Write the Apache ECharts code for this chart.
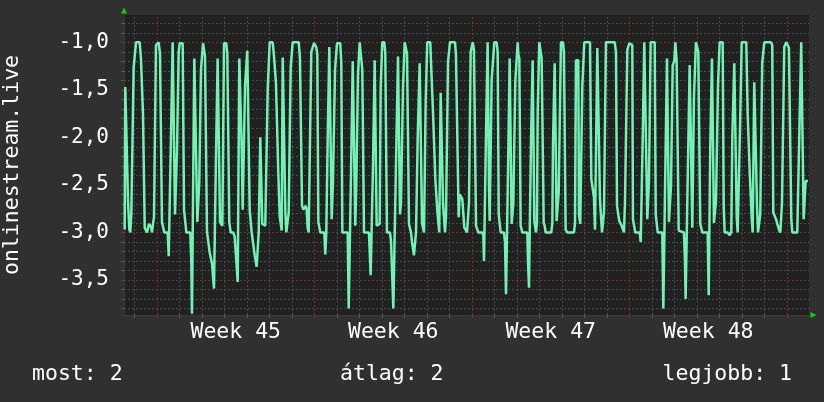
<!DOCTYPE html>
<html><head><meta charset="utf-8">
<script src="https://cdn.jsdelivr.net/npm/echarts@6/dist/echarts.min.js"></script>
<style>html,body{margin:0;padding:0;background:#303030;}#c{width:824px;height:402px;}</style>
</head><body><div id="c"></div>
<script>
// hours since Sat 2 Nov 00:00
const hoursA = [13.5,14.2,16.0,17.1,18.5,19.5,20.6,22.4,23.1,24.2,
25.6,29.5,30.9,32.0,33.1,34.1,34.9,36.3,37.3,38.4,
39.5,40.9,41.9,42.7,43.7,44.8,45.9,46.9,48.3,49.8,
51.2,52.6,53.3,54.7,55.8,59.4,60.5,61.9,62.9,64.0,
64.7,66.5,67.2,68.3,69.3,71.1,72.2,75.4,76.8,78.2,
79.3,83.5,84.6,85.3,86.7,87.8,89.6,91.0,92.5,93.1,
94.2,94.9,96.3,97.1,98.1,99.2,100.3,101.3,103.1,104.2,
105.6,106.7,108.1,108.8,109.9,110.9,112.0,112.7,114.1,115.2,
116.6,117.7,118.7,119.5,121.9,123.0,124.1,125.1,126.6,129.4,
130.9,133.0,134.1];
const valuesA = [-2.97,-1.47,-1.47,-2.68,-2.97,-3.0,-2.81,-2.81,-1.27,-1.26,
-1.0,-1.0,-1.17,-1.18,-1.77,-1.78,-2.95,-2.97,-3.0,-3.0,
-2.91,-2.93,-2.95,-3.0,-2.91,-2.84,-2.84,-1.03,-1.02,-1.0,
-1.12,-1.12,-2.89,-2.89,-3.0,-3.0,-3.25,-3.25,-2.0,-2.0,
-1.0,-1.0,-2.81,-2.81,-2.16,-1.11,-1.01,-1.01,-2.76,-2.77,
-3.0,-3.0,-3.31,-3.855,-3.855,-1.17,-1.17,-2.89,-2.89,-2.48,
-2.48,-1.29,-1.27,-1.01,-1.01,-1.15,-1.15,-2.99,-2.99,-3.21,
-3.22,-3.33,-3.33,-3.59,-3.59,-2.21,-2.21,-1.17,-1.17,-2.89,
-2.89,-2.93,-2.93,-1.01,-1.01,-1.12,-1.12,-2.89,-3.0,-3.0,
-3.05,-3.05,-3.52];

const hoursB = [135.1,135.8,137.3,138.3,139.4,140.1,141.9,143.3,144.3,146.1,
146.9,148.3,149.0,150.7,152.2,153.6,154.3,155.7,156.5,157.5,
158.2,159.3,160.3,163.5,165.0,166.1,167.1,168.2,171.4,172.5,
173.9,174.9,176.3,177.4,178.9,179.9,181.0,182.1,183.8,184.9,
185.9,187.4,188.5,189.5,190.6,191.7,192.7,199.2,200.5,201.6,
202.7,204.1,205.5,206.6,207.7,208.7,209.8,211.2,212.6,214.1,
215.5,216.9,217.9,219.0,220.1,221.1,222.2,226.5,227.5,228.6,
230.1,231.8,233.3,234.3,235.7,236.8,237.9,238.9,240.0,243.5,
244.6,245.7,251.4,252.5,253.9];
const valuesB = [-3.52,-1.17,-1.17,-2.11,-2.76,-2.76,-1.46,-1.46,-1.09,-1.09,
-2.77,-2.77,-3.0,-3.0,-3.24,-3.24,-3.36,-3.36,-3.0,-3.0,
-2.0,-2.0,-2.91,-2.93,-2.93,-1.49,-1.49,-1.0,-1.0,-1.11,
-1.11,-1.43,-1.43,-2.37,-2.83,-2.84,-2.98,-1.16,-1.16,-2.79,
-3.0,-3.0,-2.79,-2.79,-1.27,-1.27,-1.0,-1.0,-1.17,-1.17,
-2.72,-2.76,-2.76,-2.72,-2.76,-2.95,-3.0,-3.0,-1.1,-1.09,
-1.01,-1.01,-1.05,-1.13,-2.89,-2.89,-3.0,-3.0,-3.23,-3.0,
-2.0,-1.05,-1.05,-2.86,-2.48,-2.48,-1.29,-1.29,-1.01,-1.01,
-1.22,-3.0,-3.0,-3.8,-3.8];

const hoursC = [254.9,256.0,256.8,258.5,259.5,260.6,261.7,262.4,263.5,264.2,
265.9,267.0,268.1,268.8,274.1,275.2,275.9,277.7,278.4,279.5,
280.2,281.6,282.3,284.1,285.5,286.6,287.7,288.3,290.5,291.5,
292.6,293.3,296.5,297.6,299.0,300.1,302.2,303.3,304.3,305.1,
306.9,307.2,308.3,309.7,310.4,311.5,312.2,313.6,314.7,315.7,
316.8,317.9,318.9,320.0,321.1,322.1,323.2,324.3,325.3,326.1,
327.5,328.2,329.9,330.7,331.7,332.8,333.9,334.6,335.7,336.3,
339.5,340.6,341.7,342.7,343.8,344.9,345.9,347.0,348.1,349.1,
349.9,350.6,352.3,353.1,354.5,355.2,356.3,357.7,358.4,359.5,
360.5,365.9,366.9,368.7,369.8,370.9,372.5,373.7,374.7,375.8];
const valuesC = [-2.41,-2.41,-1.2,-1.2,-2.93,-2.51,-2.51,-1.34,-1.32,-1.0,
-1.0,-1.29,-1.29,-3.0,-3.0,-3.01,-3.45,-3.45,-2.3,-2.3,
-1.19,-1.19,-2.93,-2.93,-2.91,-1.47,-1.46,-1.0,-1.0,-1.11,
-1.11,-3.0,-3.0,-3.09,-3.09,-3.8,-3.8,-2.08,-2.08,-1.15,
-1.15,-2.81,-2.69,-2.69,-1.47,-1.47,-1.0,-1.0,-1.12,-1.12,
-2.91,-2.91,-3.0,-3.1,-3.1,-3.24,-3.24,-3.0,-3.0,-2.0,
-2.0,-1.22,-1.22,-2.9,-2.9,-3.0,-3.0,-1.62,-1.62,-1.0,
-1.0,-1.28,-1.28,-1.81,-1.81,-2.44,-2.44,-2.77,-2.77,-3.0,
-3.0,-1.53,-1.53,-2.7,-2.7,-3.0,-2.83,-2.83,-1.21,-1.21,
-1.0,-1.0,-1.13,-1.13,-2.84,-2.6,-2.6,-2.65,-2.65,-2.95];

const hoursD = [377.6,378.7,379.7,380.8,381.9,382.6,383.7,384.8,386.1,387.2,
388.3,389.7,390.7,395.0,396.1,396.8,398.2,398.9,400.0,400.7,
401.4,402.1,402.9,403.9,405.0,407.1,407.8,410.3,411.4,412.5,
413.5,414.6,418.1,419.2,420.3,421.7,422.4,423.5,424.2,425.6,
426.3,427.7,428.1,429.6,430.2,431.3,432.0,432.8,433.4,434.5,
435.9,437.0,437.7,443.0,443.7,444.8,446.2,446.9,448.0,448.7,
449.8,450.5,451.5,452.3,453.3,454.1,455.2,455.8,457.6,458.3,
459.4,460.5,461.5,462.6,468.6,469.7,470.4,471.5,472.2,473.6,
474.3,475.7,476.5,477.9,478.9,481.1,482.1,483.2,483.9,485.7,
492.8,493.9,494.9,497.4];
const valuesD = [-2.93,-3.0,-3.0,-2.69,-2.69,-1.1,-1.08,-1.0,-1.08,-1.08,
-2.93,-2.97,-3.0,-3.0,-3.03,-3.3,-3.3,-2.0,-2.0,-1.0,
-1.0,-2.51,-2.88,-2.88,-1.39,-1.39,-1.0,-1.0,-1.1,-2.81,
-2.81,-3.0,-3.0,-3.1,-3.65,-3.65,-2.37,-2.37,-1.17,-1.17,
-2.91,-2.91,-2.7,-2.7,-1.41,-1.41,-1.12,-1.0,-1.12,-1.17,
-2.93,-2.97,-3.0,-3.0,-3.28,-3.58,-3.58,-2.08,-2.08,-1.19,
-1.19,-2.88,-2.9,-3.0,-2.9,-1.73,-1.73,-1.0,-1.0,-1.17,
-1.17,-2.9,-2.93,-3.0,-3.0,-2.9,-2.08,-2.08,-1.22,-1.22,
-2.88,-2.88,-2.58,-2.58,-1.0,-1.0,-1.11,-1.11,-2.97,-3.0,
-3.0,-2.9,-1.19,-1.19];

const hoursE = [498.1,499.5,500.6,501.7,503.2,503.8,509.9,511.3,513.1,514.1,
515.2,516.6,517.7,519.8,520.5,521.9,522.7,523.7,524.8,525.5,
526.9,536.2,537.6,538.7,540.1,541.1,542.6,543.7,545.1,546.1,
547.2,548.6,549.7,550.7,551.8,552.9,553.9,555.0,555.7,557.1,
558.2,562.9,564.0,565.3,566.1,567.1,567.8,569.9,571.0,572.1,
572.8,573.9,574.6,578.9,580.0,581.0,582.1,587.0,588.1,589.5,
590.2,591.3,592.0,593.4,594.1,595.2,596.3,597.3,598.1,599.1,
599.8,600.9,602.3,603.4,604.5,605.9,610.1,611.2,611.9,613.3,
614.4,615.5,616.2,617.9,619.0];
const valuesE = [-2.81,-2.91,-2.91,-1.46,-1.46,-1.0,-1.0,-2.44,-2.44,-2.63,
-2.97,-2.97,-1.06,-1.06,-2.65,-2.65,-3.0,-3.0,-2.79,-2.79,
-1.0,-1.0,-1.1,-2.72,-2.74,-2.88,-2.88,-2.93,-2.95,-3.0,
-2.69,-2.68,-1.08,-1.06,-1.01,-1.01,-1.03,-1.03,-2.86,-2.88,
-3.0,-3.0,-3.1,-3.1,-2.02,-2.02,-1.0,-1.0,-2.86,-2.86,
-2.46,-2.46,-1.0,-1.0,-2.81,-2.81,-3.0,-3.0,-3.8,-3.8,
-2.37,-2.37,-1.17,-1.17,-2.89,-2.89,-2.51,-2.51,-1.24,-1.24,
-1.2,-1.0,-1.2,-1.2,-2.98,-3.0,-3.0,-3.31,-3.7,-3.7,
-2.27,-2.27,-1.24,-1.24,-2.95];

const hoursF = [620.8,621.9,622.9,624.3,625.4,626.5,627.5,628.6,629.7,635.4,
636.5,637.6,638.2,639.3,640.0,641.4,642.1,643.5,644.3,645.3,
646.4,647.5,648.2,651.4,652.5,653.5,657.1,658.5,660.6,661.7,
662.7,663.8,665.6,666.4,667.4,669.1,669.9,670.9,671.7,676.6,
678.1,679.1,680.2,681.3,682.3,683.4,684.5,685.1,686.9,688.0,
689.1,690.5,691.5,692.6,693.6,694.7,695.8,702.9,704.3,705.4,
706.5,708.3,709.7,711.5,712.9,714.7,716.1,717.1,718.2,719.3,
721.1,722.1,723.5,724.6,725.7,731.0,732.1,733.1,734.2,735.2,
736.7,737.8,738.9,739.9,742.4];
const valuesF = [-1.57,-1.57,-1.0,-1.0,-1.1,-1.1,-2.91,-2.93,-3.0,-3.0,
-3.66,-3.66,-2.08,-2.08,-1.17,-1.17,-2.9,-2.9,-2.67,-2.67,
-1.46,-1.46,-1.0,-1.0,-2.72,-3.0,-3.0,-3.03,-3.0,-1.99,
-1.99,-1.22,-1.22,-2.84,-3.0,-3.0,-1.92,-1.92,-1.0,-1.0,
-1.76,-1.76,-2.35,-2.37,-2.83,-3.0,-3.0,-1.42,-1.42,-2.7,
-3.0,-3.0,-2.81,-2.81,-1.22,-1.22,-1.0,-1.0,-1.03,-2.79,
-2.81,-2.86,-2.91,-2.97,-3.0,-2.69,-2.69,-1.05,-1.03,-1.0,
-1.0,-1.06,-1.08,-2.86,-3.0,-3.0,-3.02,-2.0,-2.0,-1.0,
-1.0,-2.86,-2.86,-2.46,-2.46];

// axis / tick definitions
const weekStarts = [48, 216, 384, 552, 720];
const weekLabelPos = [132, 300, 468, 636];
const weekLabels = ['Week 45', 'Week 46', 'Week 47', 'Week 48'];
const yLabelTicks = [-3.5, -3.0, -2.5, -2.0, -1.5, -1.0];
const legendTexts = ['most: 2', 'átlag: 2', 'legjobb: 1'];
const X_MIN = 12.8, X_MAX = 743.5, Y_MIN = -3.868, Y_MAX = -0.713;

const hours = [].concat(hoursA, hoursB, hoursC, hoursD, hoursE, hoursF);
const values = [].concat(valuesA, valuesB, valuesC, valuesD, valuesE, valuesF);
const n = Math.min(hours.length, values.length);
const lineData = [];
for (let i = 0; i < n; i++) lineData.push([hours[i], values[i]]);

const dayTicks = [];
for (let h = 24; h <= 720; h += 24) dayTicks.push(h);
const yMinorTicks = [];
for (let i = -38; i <= -8; i++) yMinorTicks.push(i / 10);

const FONT = 'DejaVu Sans Mono';
const GRID_GRAY = '#4c4c4c';
const GRID_RED = '#743030';
const ARROW = '#10cc10';

const gridLines = [];
dayTicks.forEach(h => {
  const major = weekStarts.indexOf(h) >= 0;
  gridLines.push({xAxis: h, lineStyle: {color: major ? GRID_RED : GRID_GRAY}});
});
yMinorTicks.forEach(v => {
  const major = Math.abs(v * 2 - Math.round(v * 2)) < 1e-9;
  gridLines.push({yAxis: v, lineStyle: {color: major ? GRID_RED : GRID_GRAY}});
});

const chart = echarts.init(document.getElementById('c'), null, {renderer: 'canvas'});
chart.setOption({
  animation: false,
  backgroundColor: '#303030',
  textStyle: {fontFamily: FONT},
  title: [
    {text: legendTexts[0], left: 32, top: 363, padding: 0, textStyle: {color: '#fff', fontFamily: FONT, fontSize: 21.5, fontWeight: 'normal'}},
    {text: legendTexts[1], left: 340, top: 363, padding: 0, textStyle: {color: '#fff', fontFamily: FONT, fontSize: 21.5, fontWeight: 'normal'}},
    {text: legendTexts[2], right: 32, top: 363, padding: 0, textStyle: {color: '#fff', fontFamily: FONT, fontSize: 21.5, fontWeight: 'normal'}}
  ],
  grid: {left: 124, right: 15, top: 15, bottom: 87, show: true, backgroundColor: '#212121', borderWidth: 0, containLabel: false, outerBoundsMode: 'none'},
  xAxis: [
    {
      type: 'value', min: X_MIN, max: X_MAX,
      axisLine: {show: true, lineStyle: {color: '#3a3a3a', width: 1}},
      axisTick: {show: true, customValues: dayTicks, length: 3, lineStyle: {color: '#5a5a5a'}},
      axisLabel: {
        show: true, customValues: weekLabelPos, margin: 6,
        color: '#ffffff', fontFamily: FONT, fontSize: 21.5,
        formatter: function (v) {
          let best = 0;
          for (let i = 0; i < weekLabelPos.length; i++) if (Math.abs(weekLabelPos[i] - v) < Math.abs(weekLabelPos[best] - v)) best = i;
          return weekLabels[best];
        }
      },
      splitLine: {show: false}
    },
    {
      type: 'value', min: X_MIN, max: X_MAX, position: 'bottom',
      axisLine: {show: true, symbol: ['none', 'triangle'], symbolSize: [6, 6], symbolOffset: [0, 4.5], lineStyle: {color: ARROW, width: 0}},
      axisTick: {show: true, customValues: weekStarts, length: 3, lineStyle: {color: '#8a3030'}},
      axisLabel: {show: false},
      splitLine: {show: false}
    }
  ],
  yAxis: [
    {
      type: 'value', min: Y_MIN, max: Y_MAX,
      axisLine: {show: true, lineStyle: {color: '#3a3a3a', width: 1}},
      axisTick: {show: true, customValues: yMinorTicks, length: 3, lineStyle: {color: '#5a5a5a'}},
      axisLabel: {
        show: true, customValues: yLabelTicks, margin: 15,
        color: '#ffffff', fontFamily: FONT, fontSize: 21,
        formatter: v => v.toFixed(1).replace('.', ',')
      },
      splitLine: {show: false},
      name: 'onlinestream.live', nameLocation: 'middle', nameGap: 101,
      nameTextStyle: {color: '#ffffff', fontFamily: FONT, fontSize: 21.5}
    },
    {
      type: 'value', min: Y_MIN, max: Y_MAX, position: 'left',
      axisLine: {show: true, symbol: ['none', 'triangle'], symbolSize: [6, 6], symbolOffset: [0, 4.5], lineStyle: {color: ARROW, width: 0}},
      axisTick: {show: true, customValues: yLabelTicks, length: 3, lineStyle: {color: '#8a3030'}},
      axisLabel: {show: false},
      splitLine: {show: false}
    }
  ],
  series: [
    {
      type: 'line', z: 1, silent: true, data: lineData, showSymbol: false,
      lineStyle: {opacity: 0}, emphasis: {disabled: true},
      markLine: {
        silent: true, z: 1, symbol: ['none', 'none'], label: {show: false},
        emphasis: {disabled: true}, animation: false,
        lineStyle: {type: [2, 2], width: 1},
        data: gridLines
      }
    },
    {
      type: 'line', z: 3, data: lineData, showSymbol: false, smooth: false,
      lineStyle: {color: '#72f2b4', width: 2.5}, itemStyle: {color: '#72f2b4'},
      emphasis: {disabled: true}
    }
  ]
});
</script>
</body></html>
